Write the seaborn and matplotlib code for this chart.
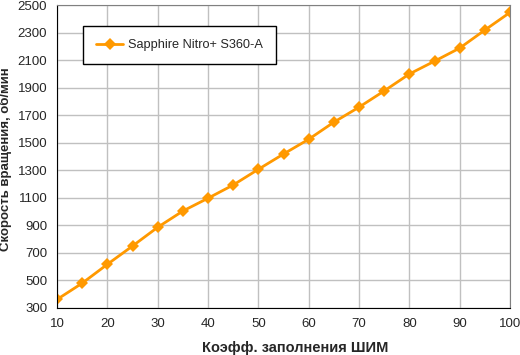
import numpy as np
import pandas as pd
from matplotlib import pyplot as plt
import seaborn as sns

duty = [10, 15, 20, 25, 30, 35, 40, 45, 50, 55, 60, 65, 70, 75, 80, 85, 90, 95, 100]
rpm = [362, 480, 617, 750, 886, 1004, 1097, 1193, 1307, 1418, 1525, 1649, 1758, 1876,
       1999, 2092, 2187, 2318, 2446]
series_name = 'Sapphire Nitro+ S360-A'
x_ticks = [10, 20, 30, 40, 50, 60, 70, 80, 90, 100]
y_ticks = [300, 500, 700, 900, 1100, 1300, 1500, 1700, 1900, 2100, 2300, 2500]

data = pd.DataFrame({'duty': duty, 'rpm': rpm, 'name': series_name})

sns.set_style('white')
plt.rcParams['font.family'] = ['Liberation Sans', 'DejaVu Sans']
plt.rcParams['font.size'] = 9.5

fig = plt.figure(figsize=(5.2, 3.55), dpi=100)
ax = fig.add_axes([57 / 520, 47 / 355, 453 / 520, 303 / 355])

sns.lineplot(x='duty', y='rpm', hue='name', data=data, ax=ax, palette=['#ff9900'],
             marker='D', markersize=6.5, markeredgewidth=0, linewidth=2)

ax.set_xlim(10, 100)
ax.set_ylim(300, 2500)
ax.set_xticks(x_ticks)
ax.set_yticks(y_ticks)
ax.grid(True, color='#c0c0c0', linewidth=1)
ax.set_axisbelow(True)

for side in ['top', 'right']:
    ax.spines[side].set_color('#808080')
for side in ['left', 'bottom']:
    ax.spines[side].set_color('black')
ax.tick_params(direction='out', length=4, width=1, color='black', labelsize=9.5, pad=3)

ax.set_xlabel('Коэфф. заполнения ШИМ', fontweight='bold', fontsize=10.5)
ax.set_ylabel('Скорость вращения, об/мин', fontweight='bold', fontsize=9.5)
ax.xaxis.set_label_coords(0.525, -0.108)
ax.yaxis.set_label_coords(-0.1, 0.49)

leg = ax.legend(loc='upper left', bbox_to_anchor=(0.057, 0.932), borderaxespad=0,
                fancybox=False, framealpha=1, edgecolor='black', fontsize=9.2,
                handlelength=2.1, handletextpad=0.4, borderpad=1.05)
leg.get_frame().set_linewidth(1)

plt.savefig('out.png', dpi=100)
